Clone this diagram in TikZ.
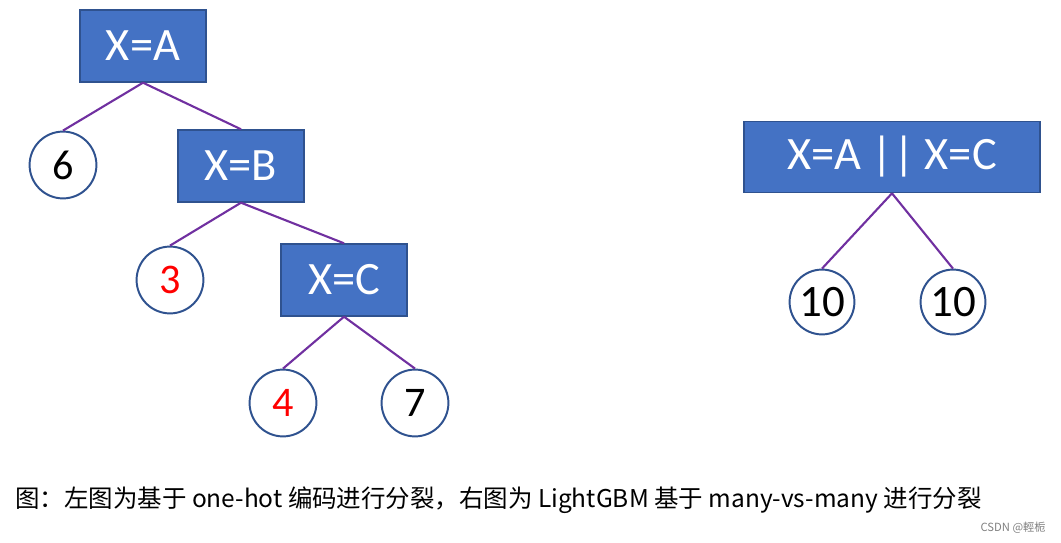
\documentclass[tikz,border=0pt]{standalone}
\usepackage{fontspec}
\setmainfont{Carlito}
\newfontfamily\cjk{Noto Sans CJK SC}
\usepackage{xcolor}
\usepackage{tikz}
\usetikzlibrary{positioning}
\definecolor{boxblue}{HTML}{4472C4}
\definecolor{boxedge}{HTML}{2F528F}
\definecolor{branchpurple}{HTML}{7030A0}
\tikzset{
  splitbox/.style={draw=boxedge, line width=1pt, fill=boxblue, text=white,
                   font=\fontsize{33}{36}\selectfont, inner sep=0pt,
                   minimum width=3.15cm, minimum height=1.8cm},
  widebox/.style={splitbox, minimum width=7.4cm, minimum height=1.78cm},
  leaf/.style={circle, draw=boxedge, line width=1.4pt, fill=white, inner sep=0pt,
               minimum size=1.67cm, font=\fontsize{30}{34}\selectfont},
  hotleaf/.style={leaf, text=red},
  branch/.style={branchpurple, line width=1.5pt},
  caption/.style={font=\cjk\fontsize{17.4}{21}\selectfont, inner sep=0pt},
  watermark/.style={font=\cjk\fontsize{8}{10}\selectfont, text=gray, inner sep=0pt}
}

\begin{document}
\begin{tikzpicture}[x=0.025cm, y=-0.025cm]
\useasboundingbox (0,0) rectangle (1061,543);

% One-hot tree
\node[splitbox] (xa) at (143,46)  {X=A};
\node[leaf]     (six) at (63,165) {6};
\node[splitbox] (xb) at (241,166) {X=B};
\node[hotleaf]  (three) at (170,280) {3};
\node[splitbox] (xc) at (344,280) {X=C};
\node[hotleaf]  (four) at (283,403) {4};
\node[leaf]     (seven) at (415,403) {7};

% Many-vs-many tree
\node[widebox] (xac) at (892,157) {X=A~||~X=C};
\node[leaf, minimum size=1.62cm, font=\fontsize{32}{36}\selectfont] (tenl) at (822,302) {10};
\node[leaf, minimum size=1.62cm, font=\fontsize{32}{36}\selectfont] (tenr) at (953,302) {10};

% Branches
\draw[branch] (xa.south) -- (six.north);
\draw[branch] (xa.south) -- (xb.north);
\draw[branch] (xb.south) -- (three.north);
\draw[branch] (xb.south) -- (xc.north);
\draw[branch] (xc.south) -- (four.north);
\draw[branch] (xc.south) -- (seven.north);
\draw[branch] (xac.south) -- (tenl.north);
\draw[branch] (xac.south) -- (tenr.north);

% Caption
\node[caption, anchor=west] (cap) at (15,500)
  {图：左图为基于 one-hot 编码进行分裂，右图为 LightGBM 基于 many-vs-many 进行分裂};
\node[watermark, anchor=east] (mark) at (1046,528) {CSDN @輕栀};

\end{tikzpicture}
\end{document}
